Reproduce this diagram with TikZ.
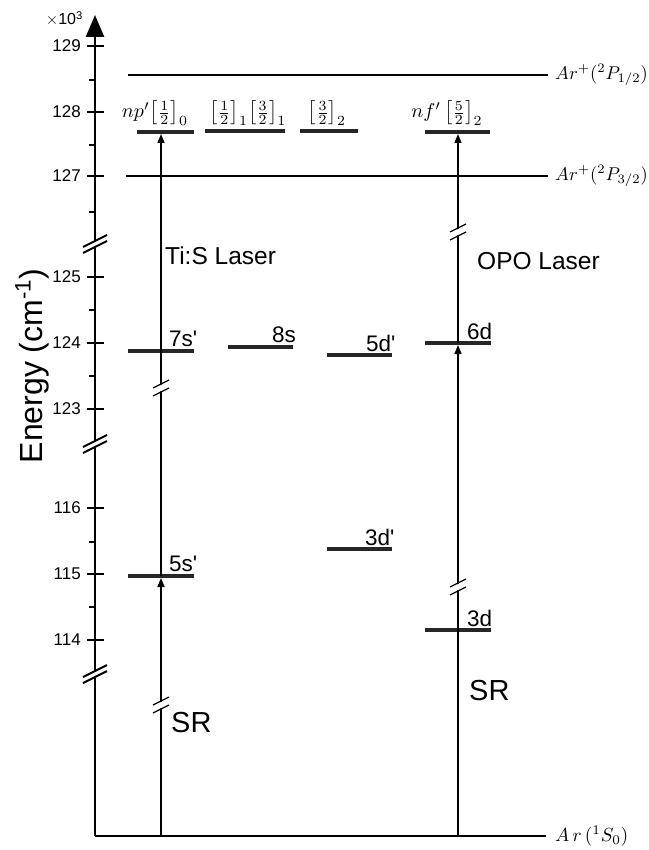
\RequirePackage{fix-cm}
\documentclass[tikz,border=0pt]{standalone}
\usepackage{amsmath}
\usepackage{graphicx}
\usepackage{fontspec}
\setmainfont{Liberation Sans}
\usetikzlibrary{arrows.meta}
\newcommand{\qs}{\textquotesingle}
\begin{document}
\begin{tikzpicture}[x=1pt,y=-1pt,
  axisline/.style={line width=2.8pt},
  refline/.style={line width=1.3pt},
  levelbar/.style={line width=3.8pt, draw=black!85},
  laser/.style={line width=1.5pt},
  laserarrow/.style={line width=1.5pt, -{Triangle[length=9pt,width=7pt]}},
  ticklab/.style={anchor=east, font=\fontsize{17}{19}\selectfont, inner sep=0pt},
  lvllab/.style={anchor=south west, inner sep=0pt, font=\fontsize{22.5}{25}\selectfont},
  mathlab/.style={anchor=base, inner sep=0pt},
  ionlab/.style={anchor=west, inner sep=0pt},
  biglab/.style={anchor=base west, inner sep=0pt, font=\fontsize{24.5}{28}\selectfont},
  srlab/.style={anchor=base west, inner sep=0pt, font=\fontsize{29}{32}\selectfont}]
\useasboundingbox (0,0) rectangle (648,850);

% axes
\coordinate (ybot) at (95,836);
\coordinate (ytop) at (95,15);
\coordinate (xend) at (546,836);
\draw[axisline, -{Triangle[length=22pt,width=18pt]}] (ybot) -- (ytop);
\draw[axisline] (ybot) -- (xend);
\node[anchor=base east, inner sep=0pt, font=\fontsize{16}{18}\selectfont] (mult) at (83,25) {$\times$10\textsuperscript{3}};

% major ticks
\foreach \y/\l in {46/129,112/128,176/127,277/125,343/124,409/123,508/116,574/115,640/114}{
  \draw[line width=1.6pt] (87,\y) -- (104,\y);
  \node[ticklab] at (81,\y) {\l};
}
% minor ticks
\foreach \y in {80,145,212,310,376,542,607}{
  \draw[line width=1.6pt] (89,\y) -- (96,\y);
}

% axis breaks
\foreach \y in {243,443,673}{
  \fill[white] (82,\y+5) -- (108,\y-9) -- (108,\y-4) -- (82,\y+10) -- cycle;
  \draw[line width=2pt] (83,\y+4) -- (107,\y-8);
  \draw[line width=2pt] (83,\y+10) -- (107,\y-2);
}

% reference lines
\coordinate (ionAa) at (128,75);
\coordinate (ionAb) at (548,75);
\coordinate (ionBa) at (126,176);
\coordinate (ionBb) at (548,176);
\draw[refline] (ionAa) -- (ionAb);
\draw[refline] (ionBa) -- (ionBb);
\node[ionlab] (ionA) at (555,75) {\scalebox{1.85}{$Ar^{+}({}^{2}P_{1/2})$}};
\node[ionlab] (ionB) at (555,176) {\scalebox{1.85}{$Ar^{+}({}^{2}P_{3/2})$}};
\node[ionlab] (gnd) at (555,836) {\scalebox{1.9}{$A\,r\,({}^{1}S_{0})$}};

% levels
\draw[levelbar] (137,132) -- (194,132);
\draw[levelbar] (205,131) -- (285,131);
\draw[levelbar] (300,131) -- (358,131);
\draw[levelbar] (425,132) -- (490,132);
\draw[levelbar] (128,351) -- (194,351);
\draw[levelbar] (228,347) -- (293,347);
\draw[levelbar] (327,355) -- (392,355);
\draw[levelbar] (425,343) -- (491,343);
\draw[levelbar] (327,549) -- (392,549);
\draw[levelbar] (128,576) -- (194,576);
\draw[levelbar] (425,630) -- (491,630);

% level labels
\node[mathlab] (lnp) at (155,118) {\scalebox{2.0}{$np'\bigl[\tfrac{1}{2}\bigr]_{0}$}};
\node[mathlab] (lhalf) at (248,118) {\scalebox{2.0}{$\bigl[\tfrac{1}{2}\bigr]_{1}\bigl[\tfrac{3}{2}\bigr]_{1}$}};
\node[mathlab] (lthree) at (327,118) {\scalebox{2.0}{$\bigl[\tfrac{3}{2}\bigr]_{2}$}};
\node[mathlab] (lnf) at (447,118) {\scalebox{2.0}{$nf'\,\bigl[\tfrac{5}{2}\bigr]_{2}$}};

\node[lvllab] (l7s) at (169,347) {7s\qs};
\node[lvllab] (l8s) at (272,343) {8s};
\node[lvllab] (l5d) at (366,352) {5d\qs};
\node[lvllab] (l6d) at (467,340) {6d};
\node[lvllab] (l3dp) at (365,546) {3d\qs};
\node[lvllab] (l5s) at (169,572) {5s\qs};
\node[lvllab] (l3d) at (467,627) {3d};

% laser transitions
\coordinate (Lb) at (161,836);
\coordinate (L5s) at (161,578);
\coordinate (L5s0) at (161,576);
\coordinate (Lnp) at (161,134);
\coordinate (Rb) at (458,836);
\coordinate (R3d) at (458,630);
\coordinate (R6d) at (458,345);
\coordinate (R6d0) at (458,343);
\coordinate (Rnf) at (458,134);
\draw[laserarrow] (Lb) -- (L5s);
\draw[laserarrow] (L5s0) -- (Lnp);
\draw[laser] (Rb) -- (R3d);
\draw[laserarrow] (R3d) -- (R6d);
\draw[laserarrow] (R6d0) -- (Rnf);

% breaks on laser lines
\foreach \x/\y in {161/705,161/388,458/587,458/232}{
  \fill[white] (\x-8,\y+1) -- (\x+8,\y-7) -- (\x+8,\y-1) -- (\x-8,\y+7) -- cycle;
  \draw[line width=1.3pt] (\x-8,\y+0) -- (\x+8,\y-8);
  \draw[line width=1.3pt] (\x-8,\y+8) -- (\x+8,\y+0);
}

% labels
\node[biglab] (tis) at (165,264) {Ti:S Laser};
\node[biglab] (opo) at (477,269) {OPO Laser};
\node[srlab] (srL) at (171,732) {SR};
\node[srlab] (srR) at (469,700) {SR};
\node[rotate=90, font=\fontsize{32}{35}\selectfont] (elab) at (32,366) {Energy (cm\textsuperscript{-1})};
\end{tikzpicture}
\end{document}
